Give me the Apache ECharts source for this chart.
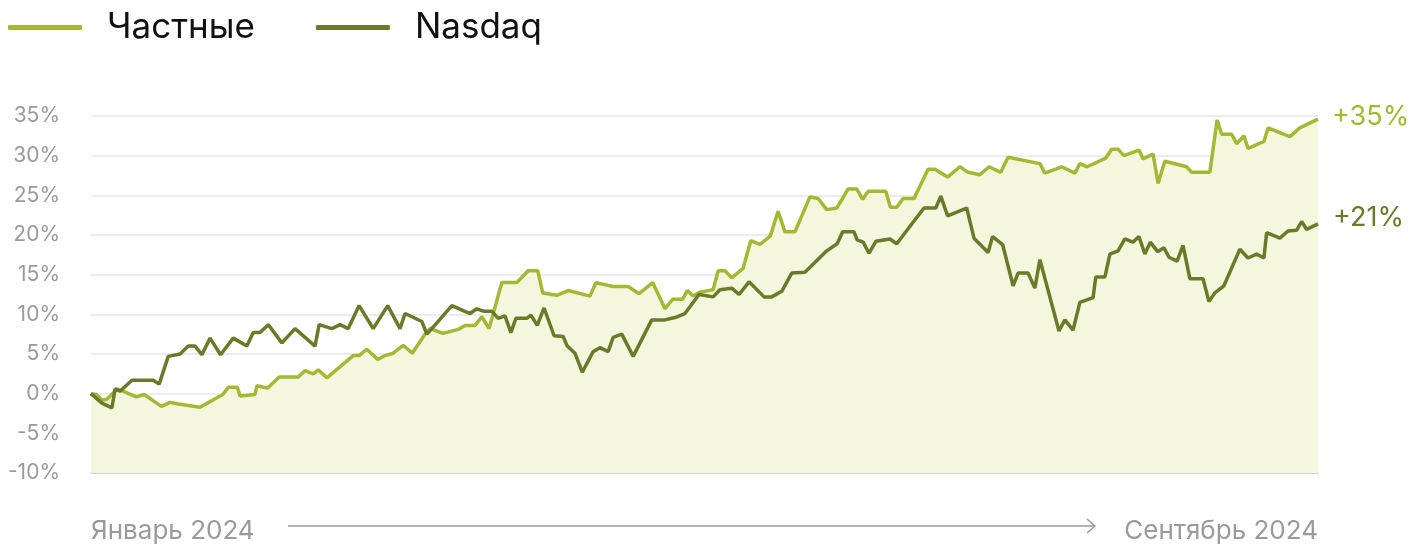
<!DOCTYPE html>
<html>
<head>
<meta charset="utf-8">
<script src="https://cdn.jsdelivr.net/npm/echarts@6/dist/echarts.min.js"></script>
<style>
  html, body { margin: 0; padding: 0; background: #fff; }
  #chart { width: 1423px; height: 545px; }
</style>
</head>
<body>
<div id="chart"></div>
<script>
// день от начала года (0 = январь, 270 = конец сентября), доходность в %
const privateData = [
  [0, 0], [1.2, -0.1], [2.4, -0.8], [3.5, -0.7], [5.8, 0.6], [10, -0.4], [11.7, -0.1],
  [15.5, -1.6], [17.4, -1.1], [19.2, -1.3], [24, -1.7], [29, -0.1], [30.2, 0.8], [32.2, 0.8],
  [32.8, -0.3], [36.1, -0.1], [36.5, 1.0], [38.9, 0.7], [41.4, 2.1], [45.6, 2.1], [47.1, 2.9],
  [48.9, 2.5], [50, 3.0], [51.9, 2.0], [57.7, 4.8], [59, 4.8], [60.7, 5.6], [63.1, 4.3],
  [64.7, 4.8], [66.5, 5.1], [68.7, 6.1], [70.7, 5.1], [73.5, 7.5], [74.6, 8.2], [77.5, 7.6],
  [80.8, 8.1], [82.3, 8.6], [84.5, 8.6], [86, 9.7], [87.6, 8.2], [90.4, 14.0], [93.7, 14.0],
  [96.2, 15.5], [98.3, 15.5], [99.4, 12.7], [102.5, 12.4], [105, 13.0], [109.8, 12.3],
  [111.1, 14.0], [114.9, 13.5], [118.2, 13.5], [120.6, 12.6], [123.6, 14.0], [126.3, 10.7],
  [128, 11.9], [130.2, 11.9], [131.2, 13.0], [132.5, 12.3], [134, 12.8], [136.9, 13.1],
  [138, 15.5], [139.5, 15.5], [141, 14.6], [143.5, 15.8], [145.2, 19.3], [147.2, 18.8],
  [149.5, 19.9], [151.2, 23.0], [152.7, 20.4], [154.9, 20.4], [158.2, 24.8], [160, 24.6],
  [161.9, 23.2], [164.1, 23.4], [166.6, 25.8], [168.5, 25.8], [169.8, 24.5], [171, 25.5],
  [174.9, 25.5], [175.9, 23.5], [177.3, 23.5], [178.7, 24.6], [181.1, 24.6], [184.2, 28.3],
  [185.7, 28.3], [188.5, 27.3], [191.2, 28.6], [193, 27.9], [195.6, 27.6], [197.6, 28.6],
  [200.2, 27.9], [201.8, 29.8], [208.8, 29.0], [209.9, 27.8], [213.6, 28.6], [216.5, 27.8],
  [217.6, 29.0], [219.2, 28.6], [223.3, 29.7], [224.6, 30.8], [226, 30.8], [227.3, 30.0],
  [230.6, 30.7], [231.5, 29.6], [233.7, 30.2], [234.8, 26.5], [236.3, 29.3], [241.1, 28.6],
  [242.2, 27.9], [246.2, 27.9], [247.8, 34.5], [248.8, 32.7], [251, 32.7], [252.1, 31.5],
  [253.7, 32.5], [254.6, 30.9], [258.1, 31.8], [259, 33.5], [263.8, 32.4], [266, 33.5],
  [270, 34.6]
];

const nasdaqData = [
  [0, 0], [2.4, -1.2], [4.6, -1.8], [4.9, -1.8], [5.3, 0.6], [6.4, 0.3], [9, 1.7], [13.7, 1.7],
  [15, 1.2], [17, 4.7], [19.6, 5.0], [21.4, 6.0], [22.9, 6.0], [24.4, 4.9], [26.2, 7.0],
  [28.5, 4.9], [31.3, 7.0], [34.3, 6.0], [35.7, 7.7], [37.2, 7.7], [39, 8.7], [42, 6.4],
  [44.9, 8.2], [49.3, 6.0], [50.2, 8.7], [53, 8.2], [54.8, 8.7], [56.6, 8.2], [59, 11.1],
  [62.1, 8.2], [65.3, 11.1], [68, 8.2], [69.1, 10.1], [72.8, 9.1], [73.9, 7.5], [75.3, 8.4],
  [79.4, 11.1], [83.4, 10.1], [84.9, 10.7], [86.3, 10.4], [88.2, 10.4], [89.6, 9.5],
  [91.1, 9.8], [92.4, 7.7], [93.5, 9.5], [95.9, 9.5], [96.8, 9.9], [98.2, 8.6], [99.7, 10.8],
  [101.9, 7.3], [103.9, 7.2], [104.8, 6.0], [106.5, 5.1], [108.1, 2.7], [110.5, 5.3],
  [112, 5.8], [113.8, 5.3], [114.9, 7.1], [116.8, 7.5], [119.3, 4.7], [123.4, 9.3],
  [126.3, 9.3], [128.5, 9.6], [130.7, 10.1], [133.8, 12.5], [136.9, 12.2], [138.4, 13.1],
  [141, 13.3], [142.6, 12.5], [144.8, 14.1], [148.1, 12.2], [149.8, 12.2], [152, 12.9],
  [154.2, 15.2], [157.1, 15.3], [161.9, 18.0], [164.2, 18.9], [165.4, 20.4], [167.9, 20.4],
  [168.6, 19.4], [169.9, 19.1], [171.2, 17.7], [172.7, 19.2], [175.8, 19.5], [177.3, 18.9],
  [183.3, 23.4], [185.9, 23.4], [187, 24.9], [188.5, 22.4], [192.7, 23.4], [194.3, 19.6],
  [197.4, 17.8], [198.4, 19.8], [200.6, 18.8], [202.9, 13.6], [204, 15.2], [206.2, 15.2],
  [207.7, 13.3], [208.8, 16.9], [213, 7.9], [214.3, 9.3], [216.1, 8.0], [217.6, 11.5],
  [220.5, 12.1], [221.1, 14.7], [223.1, 14.7], [224.2, 17.6], [226, 18.0], [227.5, 19.5],
  [229.3, 19.1], [230.6, 19.8], [231.9, 17.6], [233.1, 19.1], [234.7, 17.9], [236.1, 18.4],
  [237.2, 17.2], [239, 16.7], [240.3, 18.7], [241.8, 14.5], [244.7, 14.5], [246, 11.6],
  [247.3, 12.7], [249.3, 13.6], [252.8, 18.2], [254.6, 17.1], [256.5, 17.6], [258.1, 17.1],
  [258.7, 20.3], [261.6, 19.6], [263.4, 20.5], [265.3, 20.6], [266.4, 21.7], [267.5, 20.7],
  [270, 21.4]
];

const seriesNames = ['Частные', 'Nasdaq'];
const endLabels = ['+35%', '+21%'];
const periodLabels = ['Январь 2024', 'Сентябрь 2024'];

const lightGreen = '#a4b834';
const darkGreen = '#697a29';

const chart = echarts.init(document.getElementById('chart'));

const option = {
  animation: false,
  textStyle: { fontFamily: 'Inter, Roboto, sans-serif' },
  legend: {
    left: 8,
    top: 10,
    padding: 0,
    itemWidth: 74,
    itemHeight: 5,
    itemGap: 61,
    icon: 'roundRect',
    textStyle: { fontSize: 35, color: '#111', padding: [0, 0, 0, 20] },
    data: seriesNames
  },
  grid: { left: 91, right: 105, top: 116, bottom: 72 },
  xAxis: {
    type: 'value',
    min: 0,
    max: 270,
    interval: 270,
    axisLine: { show: true, onZero: false, lineStyle: { color: '#c9c9c9', width: 1.5 } },
    axisTick: { show: false },
    splitLine: { show: false },
    axisLabel: {
      show: true,
      margin: 45,
      fontSize: 26,
      color: '#9a9a9a',
      alignMinLabel: 'left',
      alignMaxLabel: 'right',
      formatter: v => (v === 0 ? periodLabels[0] : periodLabels[1])
    }
  },
  yAxis: {
    type: 'value',
    min: -10,
    max: 35,
    interval: 5,
    axisLine: { show: false },
    axisTick: { show: false },
    axisLabel: {
      margin: 31,
      fontSize: 21,
      color: '#9a9a9a',
      formatter: '{value}%'
    },
    splitLine: { lineStyle: { color: '#e6e6e6', width: 1.5 } }
  },
  series: [
    {
      name: seriesNames[0],
      type: 'line',
      data: privateData,
      showSymbol: false,
      z: 2,
      lineStyle: { color: lightGreen, width: 3.5 },
      itemStyle: { color: lightGreen },
      areaStyle: { color: '#f4f7de', opacity: 1, origin: 'start' },
      endLabel: {
        show: true,
        formatter: endLabels[0],
        color: lightGreen,
        fontSize: 27,
        distance: 14,
        offset: [0, -2]
      }
    },
    {
      name: seriesNames[1],
      type: 'line',
      data: nasdaqData,
      showSymbol: false,
      z: 3,
      lineStyle: { color: darkGreen, width: 3.5 },
      itemStyle: { color: darkGreen },
      endLabel: {
        show: true,
        formatter: endLabels[1],
        color: darkGreen,
        fontSize: 27,
        distance: 15,
        offset: [0, -6]
      }
    }
  ],
  graphic: [
    {
      type: 'line',
      shape: { x1: 288, y1: 526, x2: 1095, y2: 526 },
      style: { stroke: '#9a9a9a', lineWidth: 1.5 }
    },
    {
      type: 'polyline',
      shape: { points: [[1087, 519], [1095, 526], [1087, 533]] },
      style: { stroke: '#9a9a9a', lineWidth: 1.5, fill: null }
    }
  ]
};

chart.setOption(option);
</script>
</body>
</html>
